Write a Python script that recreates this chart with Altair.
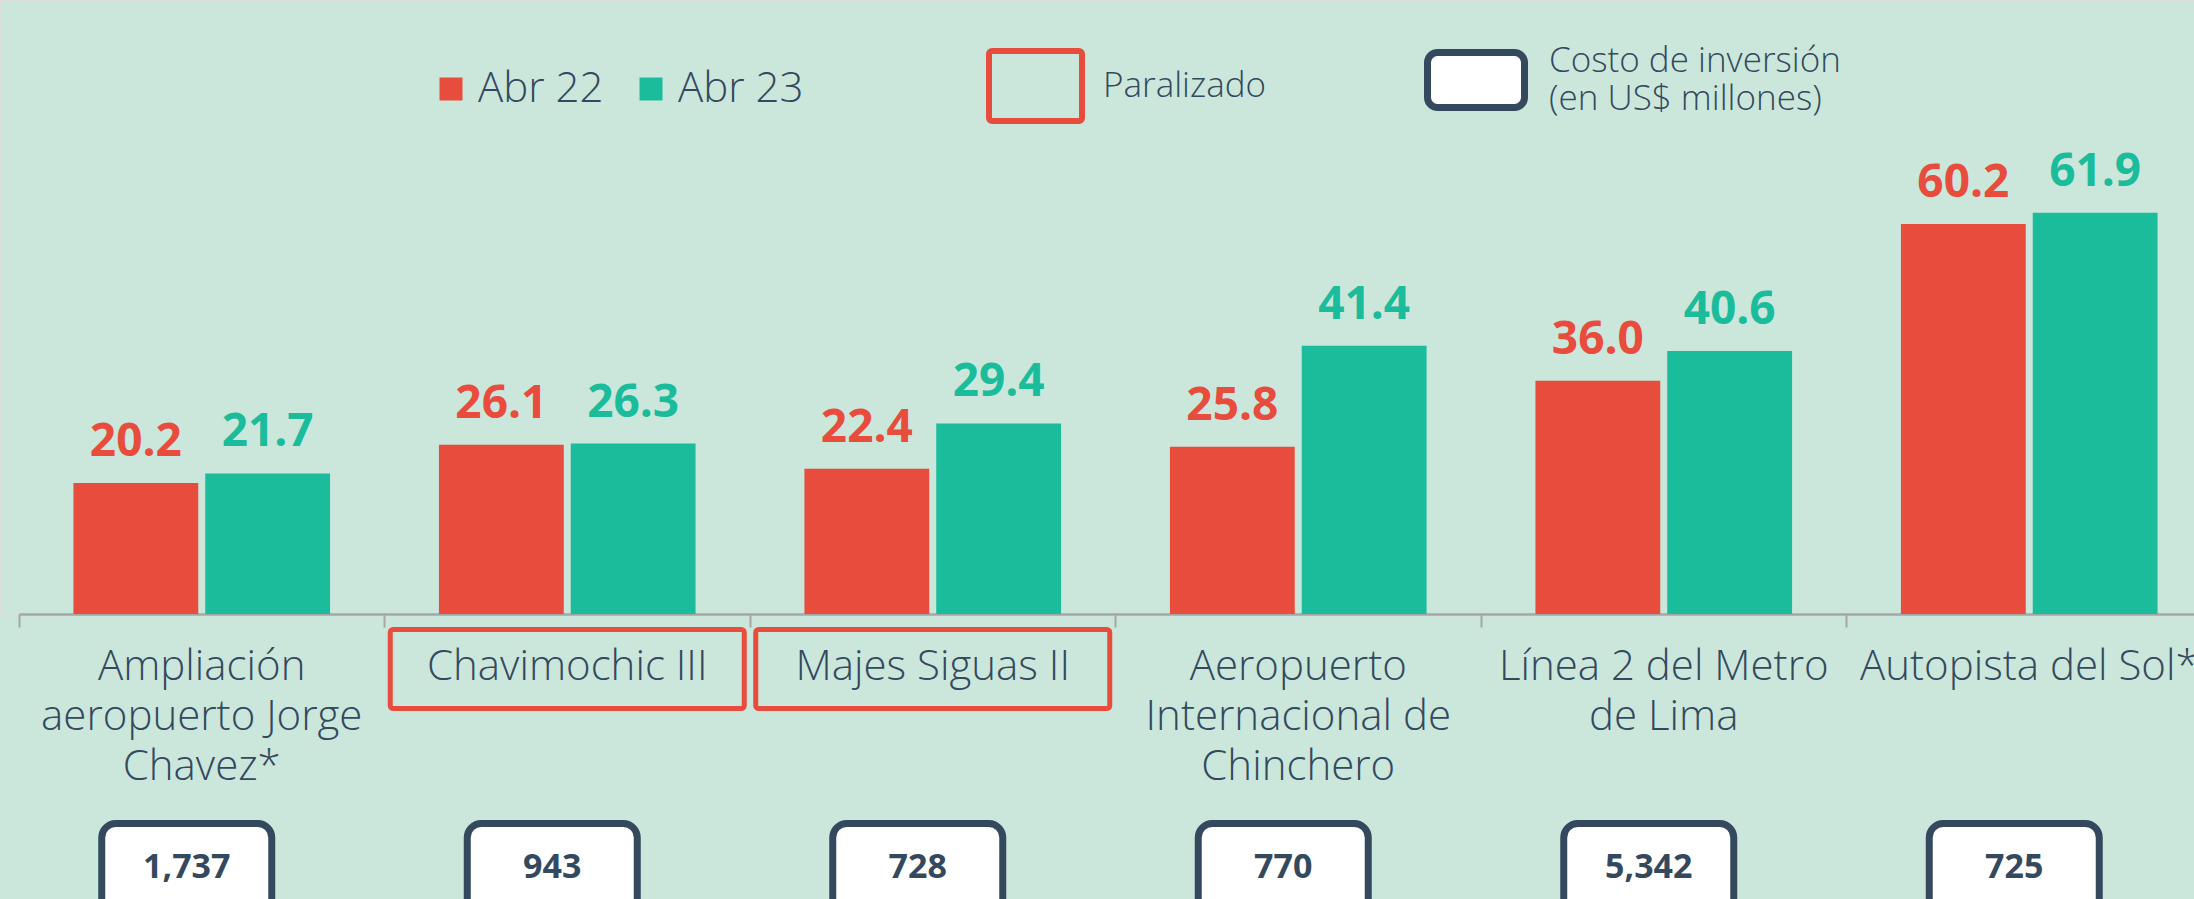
import altair as alt
import pandas as pd

# ---------------- data ----------------
categories = [
    "Ampliación\naeropuerto Jorge\nChavez*",
    "Chavimochic III",
    "Majes Siguas II",
    "Aeropuerto\nInternacional de\nChinchero",
    "Línea 2 del Metro\nde Lima",
    "Autopista del Sol*",
]
series = ["Abr 22", "Abr 23"]
abr22 = [20.2, 26.1, 22.4, 25.8, 36.0, 60.2]
abr23 = [21.7, 26.3, 29.4, 41.4, 40.6, 61.9]
costo = ["1,737", "943", "728", "770", "5,342", "725"]
paralizado = [False, True, True, False, False, False]
legend_extra = ["Paralizado", "Costo de inversión\n(en US$ millones)"]

# ---------------- styles ----------------
RED = "#E74C3C"
GREEN = "#1ABC9C"
DARK = "#34495E"
BG = "#CBE7DB"
AXIS = "#A6A6A6"
FONT = "Open Sans"

long = pd.DataFrame({
    "proyecto": categories * 2,
    "serie": [series[0]] * len(categories) + [series[1]] * len(categories),
    "valor": abr22 + abr23,
})
proj = pd.DataFrame({"proyecto": categories, "costo": costo, "paralizado": paralizado})
one = pd.DataFrame({"k": [0]})

xscale = alt.Scale(domain=categories, range=[19, 2212], paddingInner=0, paddingOuter=0)
x = alt.X(
    "proyecto:N",
    scale=xscale,
    axis=alt.Axis(
        labels=False, title=None, bandPosition=0, domainColor=AXIS, domainWidth=2.5,
        tickColor=AXIS, tickWidth=2, tickSize=13, ticks=True, grid=False,
    ),
)
y = alt.Y("valor:Q", scale=alt.Scale(domain=[0, 94.75], nice=False), axis=None)
color = alt.Color(
    "serie:N",
    scale=alt.Scale(domain=series, range=[RED, GREEN]),
    legend=alt.Legend(
        orient="none", legendX=430, legendY=68, direction="horizontal", title=None,
        symbolType="square", symbolSize=529, symbolStrokeWidth=0, symbolOpacity=1,
        labelFontSize=42, labelFont=FONT, labelFontWeight=300, labelColor=DARK,
        labelOffset=6, columnPadding=26, padding=0,
    ),
)
xoff = alt.XOffset("serie:N", scale=alt.Scale(domain=series, paddingInner=0.053, paddingOuter=0.413))

bars = alt.Chart(long).mark_bar().encode(x=x, xOffset=xoff, y=y, color=color)

values = alt.Chart(long).mark_text(
    baseline="alphabetic", dy=-27, fontSize=46, fontWeight="bold", font=FONT
).encode(x=x, xOffset=xoff, y=y, text=alt.Text("valor:Q", format=".1f"), color=color)

cat_labels = alt.Chart(proj).mark_text(
    lineBreak="\n", baseline="alphabetic", fontSize=42, fontWeight=300, font=FONT,
    color=DARK, lineHeight=50,
).encode(x=x, y=alt.value(680), text="proyecto:N")

par_boxes = alt.Chart(proj).transform_filter("datum.paralizado").mark_bar(
    width=354, fillOpacity=0, stroke=RED, strokeWidth=5, cornerRadius=3
).encode(x=x, y=alt.value(629.5), y2=alt.value(708.5))

cost_boxes = alt.Chart(proj).mark_bar(
    width=170, xOffset=-15, fill="white", stroke=DARK, strokeWidth=7, cornerRadius=14
).encode(x=x, y=alt.value(823.5), y2=alt.value(960))

cost_text = alt.Chart(proj).mark_text(
    dx=-15, baseline="alphabetic", fontSize=34, fontWeight="bold", font=FONT, color=DARK
).encode(x=x, y=alt.value(878), text="costo:N")

# custom legend items
par_leg_box = alt.Chart(one).mark_rect(
    fillOpacity=0, stroke=RED, strokeWidth=6, cornerRadius=3
).encode(x=alt.value(989), x2=alt.value(1082), y=alt.value(51), y2=alt.value(121))
par_leg_text = alt.Chart(one).mark_text(
    align="left", baseline="middle", fontSize=35, fontWeight=300, font=FONT, color=DARK
).encode(x=alt.value(1103), y=alt.value(86), text=alt.value(legend_extra[0]))

cost_leg_box = alt.Chart(one).mark_rect(
    fill="white", stroke=DARK, strokeWidth=7, cornerRadius=10
).encode(x=alt.value(1427.5), x2=alt.value(1524.5), y=alt.value(52.5), y2=alt.value(107.5))
cost_leg_text = alt.Chart(one).mark_text(
    align="left", baseline="alphabetic", fontSize=35, fontWeight=300, font=FONT,
    color=DARK, lineBreak="\n", lineHeight=38,
).encode(x=alt.value(1549), y=alt.value(72), text=alt.value(legend_extra[1]))

chart = alt.layer(
    bars, values, cat_labels, par_boxes, cost_boxes, cost_text,
    par_leg_box, par_leg_text, cost_leg_box, cost_leg_text,
).properties(
    width=2194, height=614,
    autosize=alt.AutoSizeParams(type="none"),
    padding={"left": 0, "top": 0, "right": 0, "bottom": 285},
    background=BG,
).configure_view(strokeWidth=0).configure(font=FONT)

chart.save("out.html", embed_options={"renderer": "svg", "actions": False})
